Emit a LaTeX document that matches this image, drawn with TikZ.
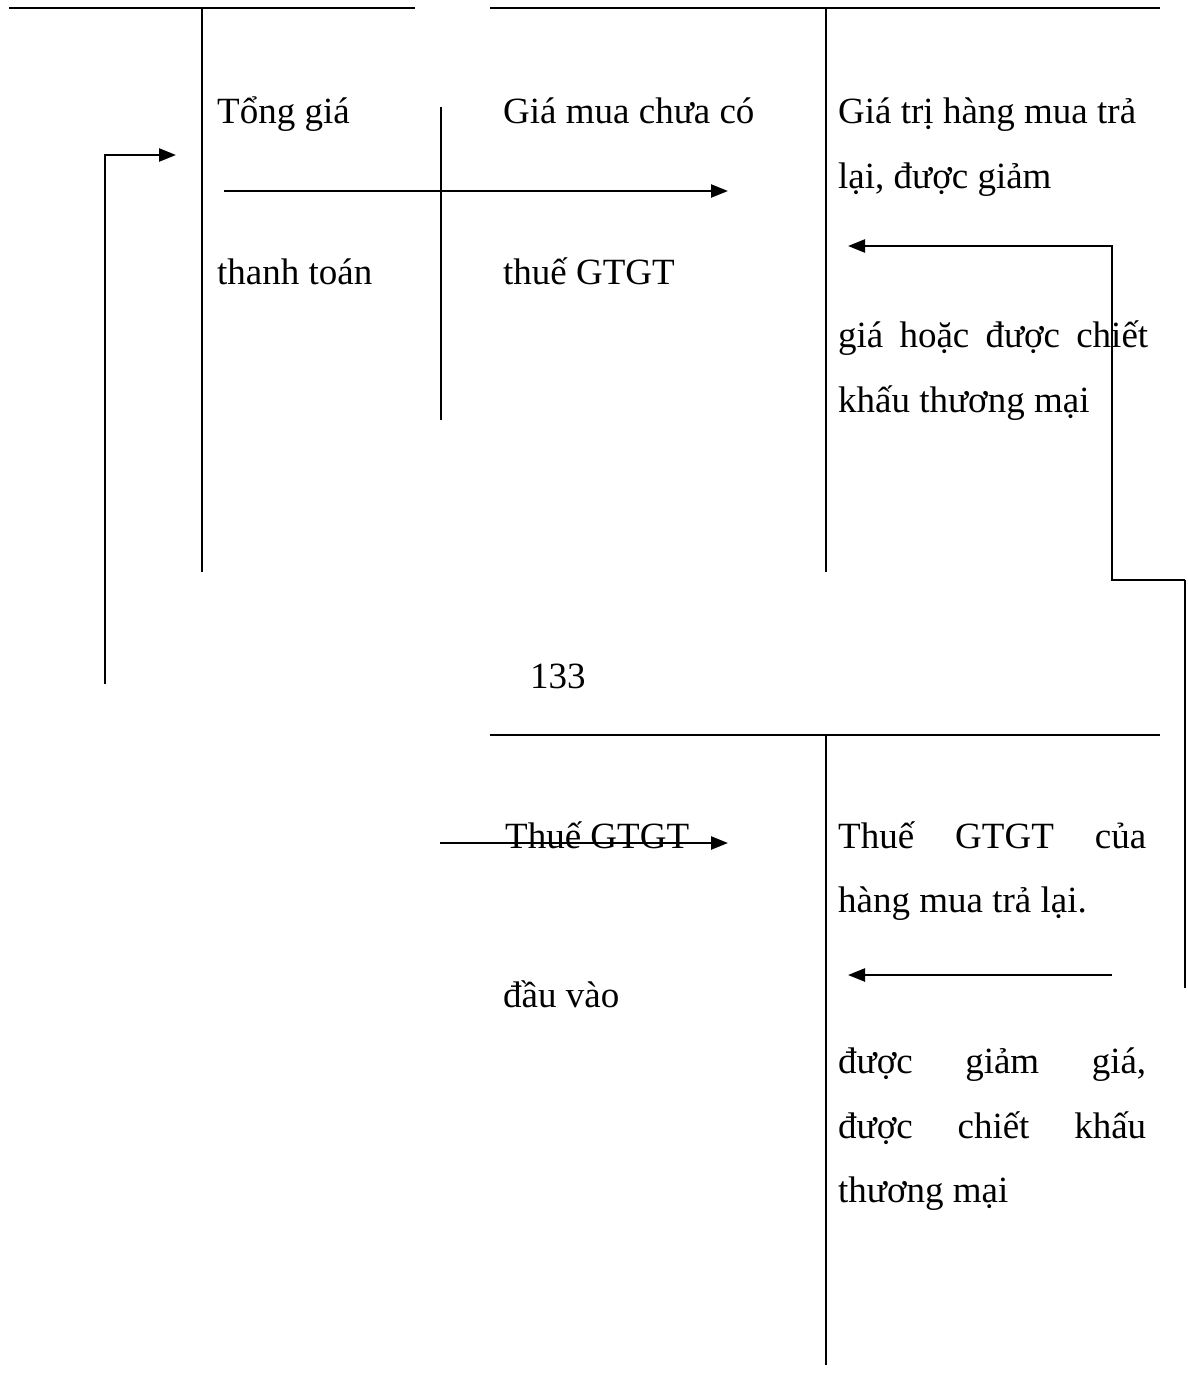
\documentclass[tikz,border=0pt]{standalone}
\usepackage{fontspec}
\setmainfont{Liberation Serif}
\usetikzlibrary{arrows.meta}
\begin{document}
\begin{tikzpicture}[x=1pt,y=-1pt,
  acc/.style={line width=2.4pt},
  thin/.style={line width=1.8pt},
  arr/.style={line width=2.4pt,-{Triangle[length=17pt,width=13pt]}},
  lbl/.style={anchor=base west,inner sep=0pt,font=\fontsize{37}{65}\selectfont}]
\useasboundingbox (0,0) rectangle (1187,1373);
% T accounts
\draw[acc] (9,8) -- (415,8);
\draw[acc] (202,8) -- (202,572);
\draw[acc] (490,8) -- (1160,8);
\draw[acc] (826,8) -- (826,572);
\draw[thin] (441,107) -- (441,420);
\draw[acc] (490,735) -- (1160,735);
\draw[acc] (826,735) -- (826,1365);
% texts
\node[lbl] (t1) at (217,123) {Tổng giá};
\node[lbl] (t2) at (217,284) {thanh toán};
\node[lbl] (m1) at (503,123) {Giá mua chưa có};
\node[lbl] (m2) at (503,284) {thuế GTGT};
\node[lbl] (r1) at (838,123) {Giá trị hàng mua trả};
\node[lbl] (r2) at (838,188) {lại, được giảm};
\node[lbl] (r3) at (838,347) {\makebox[310pt][s]{giá hoặc được chiết}};
\node[lbl] (r4) at (838,412) {khấu thương mại};
\node[lbl] (n133) at (530,688) {133};
\node[lbl] (b1) at (505,848) {Thuế GTGT};
\node[lbl] (b2) at (503,1007) {đầu vào};
\node[lbl] (c1) at (838,848) {\makebox[308pt][s]{Thuế GTGT của}};
\node[lbl] (c2) at (838,912) {hàng mua trả lại.};
\node[lbl] (c3) at (838,1073) {\makebox[308pt][s]{được giảm giá,}};
\node[lbl] (c4) at (838,1138) {\makebox[308pt][s]{được chiết khấu}};
\node[lbl] (c5) at (838,1202) {thương mại};
% connector coordinates
\coordinate (a1s) at (224,191);
\coordinate (a1e) at (728,191);
\coordinate (lb) at (105,684);
\coordinate (lt) at (105,155);
\coordinate (le) at (176,155);
\coordinate (rt) at (1112,246);
\coordinate (re) at (848,246);
\coordinate (rb) at (1112,580);
\coordinate (rr) at (1185,580);
\coordinate (rrb) at (1185,988);
\coordinate (bs) at (440,843);
\coordinate (be) at (728,843);
\coordinate (ds) at (1112,975);
\coordinate (de) at (848,975);
% connectors
\draw[arr] (a1s) -- (a1e);
\draw[arr] (lb) -- (lt) -- (le);
\draw[arr] (rr) -- (rb) -- (rt) -- (re);
\draw[acc] (rr) -- (rrb);
\draw[arr] (bs) -- (be);
\draw[arr] (ds) -- (de);
\end{tikzpicture}
\end{document}
